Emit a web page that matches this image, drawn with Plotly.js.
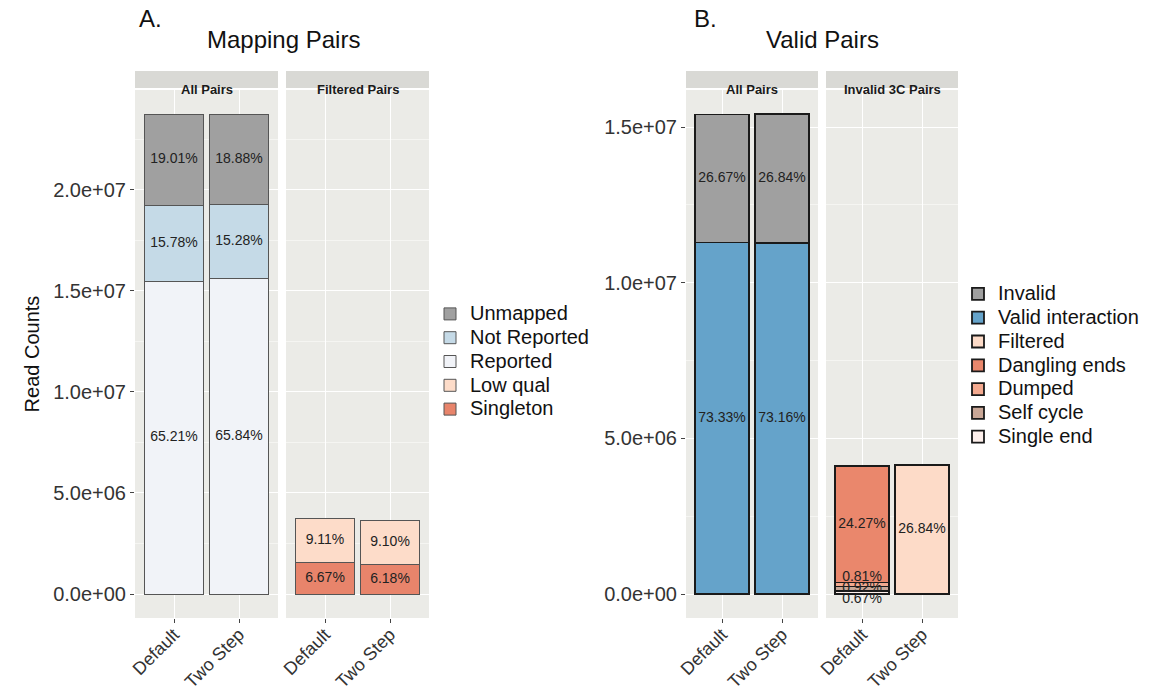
<!DOCTYPE html>
<html>
<head>
<meta charset="utf-8">
<script src="https://cdn.plot.ly/plotly-3.0.1.min.js"></script>
<style>html,body{margin:0;padding:0;background:#fff;}#chart{width:1155px;height:692px;}</style>
</head>
<body>
<div id="chart"></div>
<script>
// ---------- data ----------
const categories = ['Default', 'Two Step'];

// A. Mapping Pairs (read counts)
const unmapped    = [4.51e6, 4.48e6];
const notReported = [3.75e6, 3.63e6];
const reported    = [15.48e6, 15.63e6];
const lowQual     = [2.16e6, 2.16e6];
const singleton   = [1.58e6, 1.47e6];
const unmappedPct    = ['19.01%', '18.88%'];
const notReportedPct = ['15.78%', '15.28%'];
const reportedPct    = ['65.21%', '65.84%'];
const lowQualPct     = ['9.11%', '9.10%'];
const singletonPct   = ['6.67%', '6.18%'];

// B. Valid Pairs (read counts)
const invalid   = [4.11e6, 4.14e6];
const validInt  = [11.29e6, 11.28e6];
const filtered  = [null, 4.14e6];
const dangling  = [3.74e6, null];
const dumped    = [0.125e6, null];
const selfCycle = [0.142e6, null];
const singleEnd = [0.103e6, null];
const invalidPct   = ['26.67%', '26.84%'];
const validIntPct  = ['73.33%', '73.16%'];
const filteredPct  = [null, '26.84%'];
const danglingPct  = ['24.27%', null];
const dumpedPct    = ['0.81%', null];
const selfCyclePct = ['0.92%', null];
const singleEndPct = ['0.67%', null];

const yTicksA = [0, 5e6, 1e7, 1.5e7, 2e7];
const yTicksB = [0, 5e6, 1e7, 1.5e7];

// ---------- helpers ----------
const FONT = 'Liberation Sans, Arial, Helvetica, sans-serif';
function fmt(v) {
  const s = v.toExponential(1);
  const m = s.match(/^(-?[\d.]+)e([+-])(\d+)$/);
  return m[1] + 'e' + m[2] + (m[3].length < 2 ? '0' + m[3] : m[3]);
}
function legendName(n) { return '<span style="font-size:20px">' + n + '</span>'; }
function bar(name, y, color, xa, ya, lineColor, lineWidth, legend) {
  return {
    type: 'bar', name: legendName(name), x: categories, y: y, xaxis: xa, yaxis: ya,
    width: 0.9, legend: legend,
    marker: {color: color, line: {color: lineColor, width: lineWidth}},
    hovertemplate: name + ': %{y}<extra></extra>'
  };
}
// label positions = midpoints of stacked segments (bottom-first order)
function labels(stacks, xa, ya, positions) {
  const xs = [], ys = [], ts = [], ps = [];
  for (let i = 0; i < categories.length; i++) {
    let base = 0;
    stacks.forEach((s, k) => {
      const v = s.values[i];
      if (v == null) return;
      xs.push(categories[i]);
      ys.push(base + v / 2);
      ts.push(s.text[i]);
      ps.push((positions && positions[k]) || 'middle center');
      base += v;
    });
  }
  return {
    type: 'scatter', mode: 'text', x: xs, y: ys, text: ts, textposition: ps,
    xaxis: xa, yaxis: ya, showlegend: false, hoverinfo: 'skip', cliponaxis: false,
    textfont: {family: FONT, size: 14, color: '#222'}
  };
}

const thinLine = '#555555', thickLine = '#1a1a1a';

const data = [
  // A legend (reversed order => bottom-first traces)
  bar('Singleton', singleton, '#E8846B', 'x2', 'y', thinLine, 1, 'legend'),
  bar('Low qual', lowQual, '#FDDCC9', 'x2', 'y', thinLine, 1, 'legend'),
  bar('Reported', reported, '#F1F3F8', 'x', 'y', thinLine, 1, 'legend'),
  bar('Not Reported', notReported, '#C5DAE7', 'x', 'y', thinLine, 1, 'legend'),
  bar('Unmapped', unmapped, '#A0A0A0', 'x', 'y', thinLine, 1, 'legend'),
  // B
  bar('Single end', singleEnd, '#FEF0EC', 'x4', 'y2', thickLine, 1.8, 'legend2'),
  bar('Self cycle', selfCycle, '#C9A797', 'x4', 'y2', thickLine, 1.8, 'legend2'),
  bar('Dumped', dumped, '#F3A98F', 'x4', 'y2', thickLine, 1.8, 'legend2'),
  bar('Dangling ends', dangling, '#EA876C', 'x4', 'y2', thickLine, 1.8, 'legend2'),
  bar('Filtered', filtered, '#FDDBC8', 'x4', 'y2', thickLine, 1.8, 'legend2'),
  bar('Valid interaction', validInt, '#65A3CA', 'x3', 'y2', thickLine, 1.8, 'legend2'),
  bar('Invalid', invalid, '#A0A0A0', 'x3', 'y2', thickLine, 1.8, 'legend2'),
  // labels
  labels([{values: reported, text: reportedPct}, {values: notReported, text: notReportedPct}, {values: unmapped, text: unmappedPct}], 'x', 'y'),
  labels([{values: singleton, text: singletonPct}, {values: lowQual, text: lowQualPct}], 'x2', 'y'),
  labels([{values: validInt, text: validIntPct}, {values: invalid, text: invalidPct}], 'x3', 'y2'),
  labels([{values: singleEnd, text: singleEndPct}, {values: selfCycle, text: selfCyclePct},
          {values: dumped, text: dumpedPct}, {values: dangling, text: danglingPct},
          {values: filtered, text: filteredPct}], 'x4', 'y2',
         ['bottom center', 'middle center', 'top center', 'middle center', 'middle center'])
];

// ---------- layout ----------
const W = 1155, H = 692;
const px = v => v / W, py = v => 1 - v / H;
const yDomain = [py(618), py(90)];

function xAxis(d0, d1, anchor) {
  return {
    domain: [px(d0), px(d1)], anchor: anchor, type: 'category',
    categoryorder: 'array', categoryarray: categories, range: [-0.6, 1.6],
    showgrid: true, gridcolor: '#ffffff', gridwidth: 1.2, zeroline: false, showline: false,
    ticks: 'outside', ticklen: 4, tickcolor: '#444', tickangle: -45,
    ticklabelstandoff: -6,
    tickfont: {family: FONT, size: 18, color: '#333'},
    fixedrange: true
  };
}
function yAxis(range, ticks, anchor) {
  return {
    domain: yDomain, anchor: anchor, range: range,
    tickmode: 'array', tickvals: ticks, ticktext: ticks.map(fmt),
    showgrid: true, gridcolor: '#ffffff', gridwidth: 1.2, zeroline: false, showline: false,
    ticks: 'outside', ticklen: 4, tickcolor: '#444',
    tickfont: {family: FONT, size: 20, color: '#333'},
    minor: {tickmode: 'linear', tick0: 0, dtick: 2.5e6, showgrid: true, gridcolor: '#f5f5f2', gridwidth: 0.7, ticks: ''},
    fixedrange: true
  };
}

const stripY0 = py(88), stripY1 = py(71);
const shapes = [], annotations = [];
[['x', 'All Pairs'], ['x2', 'Filtered Pairs'], ['x3', 'All Pairs'], ['x4', 'Invalid 3C Pairs']].forEach(([xa, t]) => {
  shapes.push({type: 'rect', xref: xa + ' domain', yref: 'paper', x0: 0, x1: 1, y0: stripY0, y1: stripY1,
               fillcolor: '#D9D9D5', line: {width: 0}, layer: 'below'});
  annotations.push({xref: xa + ' domain', yref: 'paper', x: 0.5, y: (stripY0 + stripY1) / 2,
                    text: '<b>' + t + '</b>', showarrow: false, font: {family: FONT, size: 13, color: '#1a1a1a'}});
});
annotations.push(
  {xref: 'paper', yref: 'paper', x: px(137), y: py(19), xanchor: 'left', yanchor: 'middle', text: 'A.', showarrow: false, font: {family: FONT, size: 24, color: '#111'}},
  {xref: 'paper', yref: 'paper', x: px(283), y: py(39), xanchor: 'center', yanchor: 'middle', text: 'Mapping Pairs', showarrow: false, font: {family: FONT, size: 24, color: '#111'}},
  {xref: 'paper', yref: 'paper', x: px(692), y: py(19), xanchor: 'left', yanchor: 'middle', text: 'B.', showarrow: false, font: {family: FONT, size: 24, color: '#111'}},
  {xref: 'paper', yref: 'paper', x: px(822), y: py(39), xanchor: 'center', yanchor: 'middle', text: 'Valid Pairs', showarrow: false, font: {family: FONT, size: 24, color: '#111'}}
);

const legendFont = {family: FONT, size: 16, color: '#111'};
const layout = {
  width: W, height: H,
  margin: {l: 0, r: 0, t: 0, b: 0},
  paper_bgcolor: '#ffffff', plot_bgcolor: '#EBEBE7',
  barmode: 'stack', bargap: 0.1,
  font: {family: FONT},
  showlegend: true,
  hovermode: 'closest',
  xaxis: xAxis(135, 278, 'y'),
  xaxis2: xAxis(286, 429, 'y'),
  xaxis3: xAxis(686, 818, 'y2'),
  xaxis4: xAxis(826, 958, 'y2'),
  yaxis: Object.assign(yAxis([-1.187e6, 24.93e6], yTicksA, 'x'),
    {title: {text: 'Read Counts', font: {family: FONT, size: 20, color: '#111'}, standoff: 8}}),
  yaxis2: yAxis([-0.77e6, 16.19e6], yTicksB, 'x3'),
  legend: {x: px(430), y: py(297), xanchor: 'left', yanchor: 'top', traceorder: 'reversed',
           font: legendFont, bgcolor: 'rgba(0,0,0,0)', tracegroupgap: 0, itemclick: false, itemdoubleclick: false},
  legend2: {x: px(958), y: py(277), xanchor: 'left', yanchor: 'top', traceorder: 'reversed',
            font: legendFont, bgcolor: 'rgba(0,0,0,0)', tracegroupgap: 0, itemclick: false, itemdoubleclick: false},
  shapes: shapes,
  annotations: annotations
};

Plotly.newPlot('chart', data, layout, {displayModeBar: false});
</script>
</body>
</html>
